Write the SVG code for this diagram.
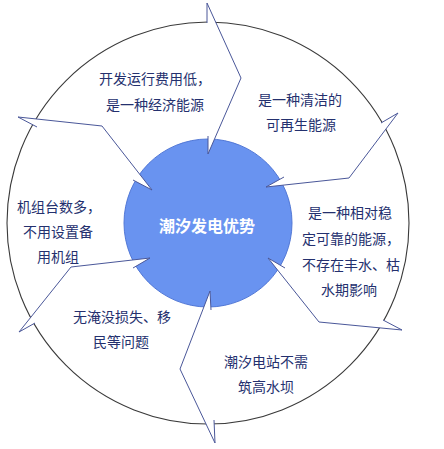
<svg xmlns="http://www.w3.org/2000/svg" width="444" height="449" viewBox="0 0 444 449">
<style>
.ring{fill:#ffffff;stroke:#3a3a3a;stroke-width:1.1}
.hub{fill:#6993f0;stroke:#5278d6;stroke-width:1}
.arr{fill:#ffffff;stroke:#4a5799;stroke-width:1;stroke-linejoin:miter}
.t{font-family:"Noto Sans CJK SC","Noto Sans",sans-serif;font-size:14px;fill:#24306e;text-anchor:middle}
.c{font-family:"Noto Sans CJK SC","Noto Sans",sans-serif;font-size:16px;font-weight:bold;fill:#ffffff;text-anchor:middle}
</style>
<rect width="444" height="449" fill="#ffffff"/>
<g id="outer-ring"><circle class="ring" cx="208" cy="223" r="201"/></g>
<g id="hub"><circle class="hub" cx="208" cy="223" r="84"/></g>
<g id="connectors">
<path class="arr" d="M207,23 L207,3 L241,78 L208,154 L208,136"/>
<path class="arr" d="M381,123 L398,113 L349,178 L266,187 L284,177"/>
<path class="arr" d="M383,320 L402,330 L319,322 L268,258 L285,268"/>
<path class="arr" d="M214,420 L215,443 L180,369 L210,291 L211,310"/>
<path class="arr" d="M35,323 L19,332 L71,267 L150,258 L133,268"/>
<path class="arr" d="M37,127 L18,117 L102,126 L152,190 L133,180"/>
</g>
<g id="center-label"><text class="c" x="207" y="232">潮汐发电优势</text></g>
<g id="node-economy"><text class="t" x="155" y="84">开发运行费用低，</text><text class="t" x="155" y="110">是一种经济能源</text></g>
<g id="node-clean"><text class="t" x="300" y="105">是一种清洁的</text><text class="t" x="301" y="130">可再生能源</text></g>
<g id="node-stable"><text class="t" x="350" y="218">是一种相对稳</text><text class="t" x="351" y="244">定可靠的能源，</text><text class="t" x="351" y="270">不存在丰水、枯</text><text class="t" x="349" y="295">水期影响</text></g>
<g id="node-dam"><text class="t" x="266" y="367">潮汐电站不需</text><text class="t" x="266" y="392">筑高水坝</text></g>
<g id="node-flood"><text class="t" x="122" y="322">无淹没损失、移</text><text class="t" x="121" y="347">民等问题</text></g>
<g id="node-units"><text class="t" x="59" y="212">机组台数多，</text><text class="t" x="58" y="237">不用设置备</text><text class="t" x="58" y="262">用机组</text></g>
</svg>
